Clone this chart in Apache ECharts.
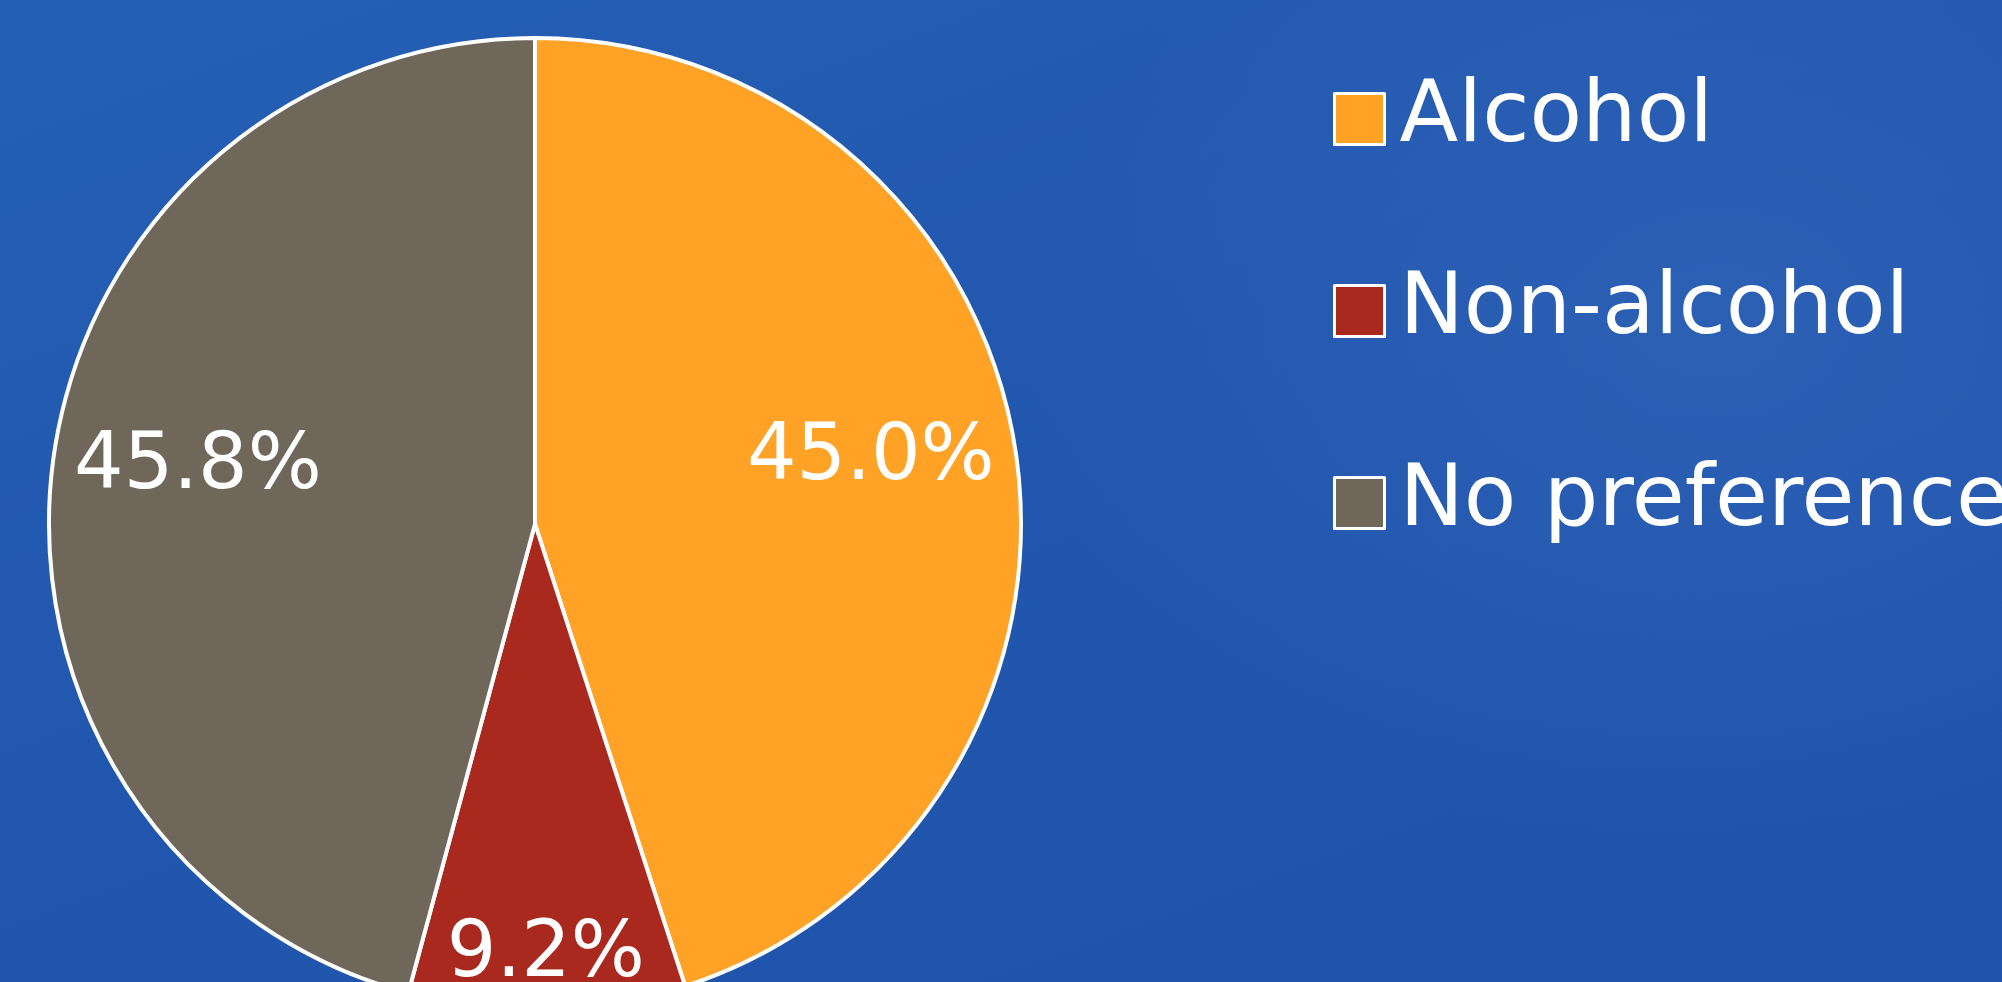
<!DOCTYPE html>
<html>
<head>
<meta charset="utf-8">
<script src="https://cdn.jsdelivr.net/npm/echarts@6/dist/echarts.min.js"></script>
<style>
html,body{margin:0;padding:0;width:2002px;height:982px;overflow:hidden;}
body{background:
 radial-gradient(ellipse 700px 520px at 1720px 330px, rgba(52,104,186,0.55) 0%, rgba(52,104,186,0.25) 60%, rgba(52,104,186,0) 100%),
 linear-gradient(160deg, #2560b4 0%, #2257af 45%, #1f53aa 100%);}
#chart{width:2002px;height:982px;}
</style>
</head>
<body>
<div id="chart"></div>
<script>
const categories = ['Alcohol', 'Non-alcohol', 'No preference'];
const values = [45.0, 9.2, 45.8];
const colors = ['#FFA226', '#A9291E', '#6F685A'];
// which labels sit further out (small slice)
const outerLabel = [false, true, false];

const chart = echarts.init(document.getElementById('chart'), null, {renderer: 'canvas'});
const font = 'DejaVu Sans';

const mainData = categories.map((c, i) => ({name: c, value: values[i], itemStyle: {color: colors[i]}}));
function overlayData(showOuter) {
  return categories.map((c, i) => ({
    name: c, value: values[i],
    itemStyle: {color: 'rgba(0,0,0,0)', borderWidth: 0},
    label: {show: outerLabel[i] === showOuter}
  }));
}
const labelBase = {
  position: 'inside', color: '#ffffff', fontFamily: font, fontSize: 78, lineHeight: 78,
  formatter: p => p.value.toFixed(1) + '%'
};

chart.setOption({
  animation: false,
  color: colors,
  legend: {
    orient: 'vertical',
    left: 1328, top: 64,
    icon: 'rect',
    itemWidth: 50, itemHeight: 51,
    itemGap: 92,
    selectedMode: false,
    itemStyle: {borderColor: '#ffffff', borderWidth: 3},
    textStyle: {color: '#ffffff', fontFamily: font, fontSize: 86, lineHeight: 100, padding: [0, 0, 0, 10]},
    data: categories
  },
  series: [
    {
      type: 'pie', center: [535, 524], radius: [0, 486],
      startAngle: 90, clockwise: true, silent: true,
      avoidLabelOverlap: false,
      itemStyle: {borderColor: '#ffffff', borderWidth: 4},
      label: {show: false}, labelLine: {show: false},
      data: mainData
    },
    {
      type: 'pie', center: [535, 524], radius: [0, 674],
      startAngle: 90, clockwise: true, silent: true, z: 5,
      avoidLabelOverlap: false,
      label: Object.assign({}, labelBase, {
        formatter: p => p.value.toFixed(1) + '%\n{g| }',
        rich: {g: {fontSize: 10, lineHeight: 24}}
      }), labelLine: {show: false},
      data: overlayData(false)
    },
    {
      type: 'pie', center: [535, 524], radius: [0, 858],
      startAngle: 90, clockwise: true, silent: true, z: 5,
      avoidLabelOverlap: false,
      label: labelBase, labelLine: {show: false},
      data: overlayData(true)
    }
  ]
});
</script>
</body>
</html>
